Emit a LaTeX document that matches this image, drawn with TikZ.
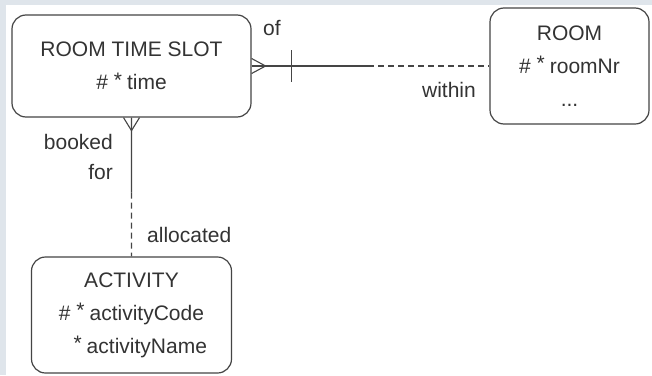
\documentclass[tikz,border=0pt]{standalone}
\usepackage{fontspec}
\setmainfont{Liberation Sans}
\usetikzlibrary{calc}
\definecolor{frameGray}{HTML}{DFE5EB}
\definecolor{lineGray}{HTML}{454545}
\definecolor{textGray}{HTML}{333333}
\newcommand{\mand}{\raisebox{2.5pt}{*}\hspace{5pt}}

\begin{document}
\begin{tikzpicture}[x=1pt, y=-1pt,
	entity/.style={
		rectangle, rounded corners=14pt, draw=lineGray, line width=1.2pt,
		fill=white, text=textGray, align=center, inner sep=0pt,
		font=\fontsize{21}{33}\selectfont
	},
	rel/.style={draw=lineGray, line width=1.1pt},
	reldash/.style={rel, dash pattern=on 6pt off 4pt},
	role/.style={text=textGray, inner sep=0pt, font=\fontsize{21}{30}\selectfont}
	]
	
	\useasboundingbox (0,0) rectangle (652,375);
	\fill[frameGray] (0,0) rectangle (652,375);
	\fill[white] (6,5) rectangle (652,375);
	
	\node[entity, minimum width=239pt, minimum height=102pt] (rts) at (131.5,66)
	{ROOM TIME SLOT\\\# \mand time};
	
	\node[entity, minimum width=159pt, minimum height=116pt] (room) at (569.5,66)
	{ROOM\\\# \mand roomNr\\...};
	
	\node[entity, minimum width=200pt, minimum height=116pt] (act) at (131.5,315)
	{ACTIVITY\\\# \mand activityCode\\\phantom{\#} \mand activityName};
	
	\node[role, anchor=base west] (ofLbl) at (263,35) {of};
	\node[role, anchor=base east] (withinLbl) at (476,97) {within};
	\node[role, anchor=east, align=right] (bookedLbl) at (113,157) {booked\\for};
	\node[role, anchor=base west] (allocLbl) at (147,242) {allocated};
	
	% of / within
	\coordinate (rtsRoomMid) at ($(rts.east)!0.49!(room.west)$);
	\draw[rel] (rts.east) -- (rtsRoomMid);
	\draw[reldash] (rtsRoomMid) -- (room.west);
	\draw[rel] ($(rts.east)+(0,-7.5)$) -- ($(rts.east)+(14,0)$) -- ($(rts.east)+(0,7.5)$);
	\draw[rel] ($(rts.east)+(40,-16)$) -- ($(rts.east)+(40,16)$);
	
	% booked for / allocated
	\coordinate (rtsActMid) at ($(rts.south)!0.54!(act.north)$);
	\draw[rel] (rts.south) -- (rtsActMid);
	\draw[reldash] (rtsActMid) -- (act.north);
	\draw[rel] ($(rts.south)+(-8,0)$) -- ($(rts.south)+(0,13)$) -- ($(rts.south)+(8,0)$);
	
\end{tikzpicture}
\end{document}
